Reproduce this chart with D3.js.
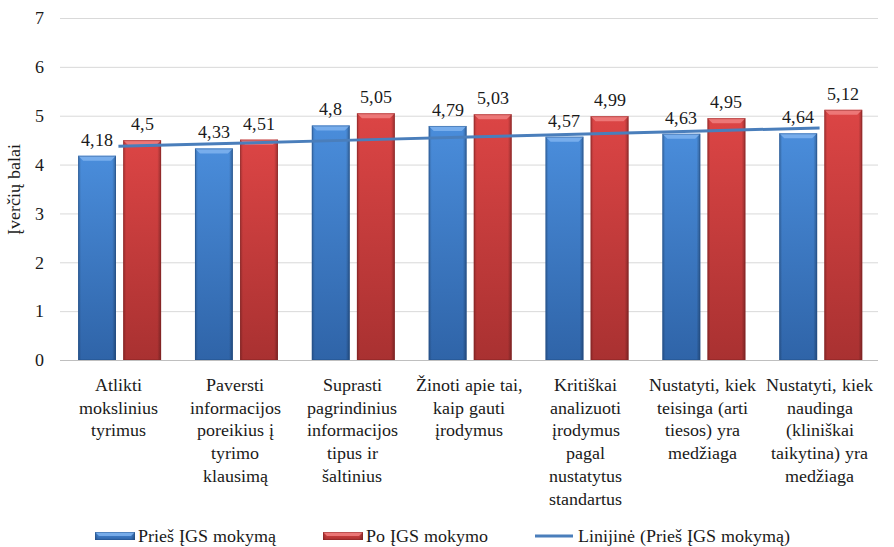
<!DOCTYPE html>
<html>
<head>
<meta charset="utf-8">
<script src="https://cdn.jsdelivr.net/npm/d3@7"></script>
<style>
  @font-face {
    font-family: "ChartSerif";
    src: local("Liberation Serif"), local("LiberationSerif"), local("LiberationSerif-Regular"), local("Tinos"), local("Times New Roman");
  }
</style>
</head>
<body style="margin:0;background:#fff">
<svg id="chart" width="894" height="547" style="display:block"></svg>
<script>
// Skill categories (x axis, pre-wrapped lines)
const categories = [
  ["Atlikti", "mokslinius", "tyrimus"],
  ["Paversti", "informacijos", "poreikius į", "tyrimo", "klausimą"],
  ["Suprasti", "pagrindinius", "informacijos", "tipus ir", "šaltinius"],
  ["Žinoti apie tai,", "kaip gauti", "įrodymus"],
  ["Kritiškai", "analizuoti", "įrodymus", "pagal", "nustatytus", "standartus"],
  ["Nustatyti, kiek", "teisinga (arti", "tiesos) yra", "medžiaga"],
  ["Nustatyti, kiek", "naudinga", "(kliniškai", "taikytina) yra", "medžiaga"]
];
const seriesNames = ["Prieš ĮGS mokymą", "Po ĮGS mokymo"];
const trendName = "Linijinė (Prieš ĮGS mokymą)";
const beforeValues = [4.18, 4.33, 4.8, 4.79, 4.57, 4.63, 4.64];
const afterValues = [4.5, 4.51, 5.05, 5.03, 4.99, 4.95, 5.12];
const yTicks = [0, 1, 2, 3, 4, 5, 6, 7];
const yTitle = "Įverčių balai";

const FONT = "ChartSerif, 'Liberation Serif', 'Times New Roman', Tinos, 'DejaVu Serif', serif";
const plotLeft = 60, plotRight = 878, plotTop = 18, plotBottom = 360;

function draw() {
  const svg = d3.select("#chart");
  svg.selectAll("*").remove();

  const x0 = d3.scaleBand().domain(d3.range(categories.length)).range([plotLeft, plotRight]).padding(0);
  const bw = x0.bandwidth();
  const x1 = d3.scaleBand().domain([0, 1]).range([bw * 0.155, bw * 0.865]).paddingInner(0.16);
  const y = d3.scaleLinear().domain([0, 7]).range([plotBottom, plotTop]);

  const label = sel => sel.attr("font-family", FONT).attr("font-size", 18).attr("fill", "#1a1a1a");

  // Gradients for bar fills
  const defs = svg.append("defs");
  const palettes = [
    { top: "#4a8ddb", bottom: "#2f64a8", edge: "#23508a", bevel: "#7fb3ee" },
    { top: "#dc4545", bottom: "#a93131", edge: "#842424", bevel: "#f08080" }
  ];
  palettes.forEach((p, i) => {
    const g = defs.append("linearGradient").attr("id", "fill" + i)
      .attr("x1", 0).attr("y1", 0).attr("x2", 0).attr("y2", 1);
    g.append("stop").attr("offset", "0%").attr("stop-color", p.top);
    g.append("stop").attr("offset", "100%").attr("stop-color", p.bottom);
  });
  const side = defs.append("linearGradient").attr("id", "sideShade")
    .attr("x1", 0).attr("y1", 0).attr("x2", 1).attr("y2", 0);
  side.append("stop").attr("offset", "0%").attr("stop-color", "#000").attr("stop-opacity", 0.22);
  side.append("stop").attr("offset", "8%").attr("stop-color", "#000").attr("stop-opacity", 0);
  side.append("stop").attr("offset", "90%").attr("stop-color", "#000").attr("stop-opacity", 0);
  side.append("stop").attr("offset", "100%").attr("stop-color", "#000").attr("stop-opacity", 0.3);

  // Gridlines
  svg.append("g").selectAll("line").data(yTicks).join("line")
    .attr("x1", plotLeft).attr("x2", plotRight)
    .attr("y1", d => y(d) + 0.5).attr("y2", d => y(d) + 0.5)
    .attr("stroke", d => d === 0 ? "#bfbfbf" : "#d9d9d9").attr("stroke-width", 1);

  // Y tick labels
  svg.append("g").selectAll("text").data(yTicks).join("text")
    .call(label)
    .attr("x", 44).attr("y", d => y(d)).attr("dy", "0.35em")
    .attr("text-anchor", "end")
    .text(d => d);

  // Y axis title
  svg.append("text").call(label)
    .attr("transform", `translate(20,${(plotTop + plotBottom) / 2}) rotate(-90)`)
    .attr("text-anchor", "middle")
    .text(yTitle);

  // Bars with a soft bevel
  const seriesData = [beforeValues, afterValues];
  function drawBar(g, x, w, yTop, h, p, idx) {
    g.append("rect").attr("x", x).attr("y", yTop).attr("width", w).attr("height", h)
      .attr("fill", `url(#fill${idx})`);
    g.append("rect").attr("x", x).attr("y", yTop).attr("width", w).attr("height", h)
      .attr("fill", "url(#sideShade)");
    const b = Math.min(5, h / 2);
    g.append("path")
      .attr("d", `M${x},${yTop}L${x + w},${yTop}L${x + w - b},${yTop + b}L${x + b},${yTop + b}Z`)
      .attr("fill", p.bevel).attr("opacity", 0.85);
    g.append("rect").attr("x", x + 0.5).attr("y", yTop + 0.5).attr("width", w - 1).attr("height", h - 1)
      .attr("fill", "none").attr("stroke", p.edge).attr("stroke-opacity", 0.45);
  }
  const barsG = svg.append("g");
  seriesData.forEach((vals, s) => {
    vals.forEach((v, i) => {
      drawBar(barsG, x0(i) + x1(s), x1.bandwidth(), y(v), y(0) - y(v), palettes[s], s);
    });
  });

  // Linear trendline of the "before" series
  const xs = d3.range(1, beforeValues.length + 1);
  const mx = d3.mean(xs), my = d3.mean(beforeValues);
  const slope = d3.sum(xs, (xv, i) => (xv - mx) * (beforeValues[i] - my)) / d3.sum(xs, xv => (xv - mx) ** 2);
  const intercept = my - slope * mx;
  const trend = xs.map(xv => [x0(xv - 1) + bw / 2, y(intercept + slope * xv)]);
  svg.append("path").attr("d", d3.line()(trend))
    .attr("fill", "none").attr("stroke", "#4a7ebb").attr("stroke-width", 3);

  // Value labels
  const labelsG = svg.append("g");
  seriesData.forEach((vals, s) => {
    vals.forEach((v, i) => {
      labelsG.append("text").call(label)
        .attr("text-anchor", "middle")
        .attr("x", x0(i) + x1(s) + x1.bandwidth() / 2)
        .attr("y", y(v) - 10)
        .text(String(v).replace(".", ","));
    });
  });

  // Category labels
  const catG = svg.append("g");
  categories.forEach((lines, i) => {
    const t = catG.append("text").call(label).attr("text-anchor", "middle")
      .attr("x", x0(i) + bw / 2).attr("y", 391);
    lines.forEach((ln, k) => {
      t.append("tspan").attr("x", x0(i) + bw / 2).attr("y", 391 + k * 22.7).text(ln);
    });
  });

  // Legend
  const legY = 536;
  const leg = svg.append("g");
  const legItems = [
    { type: "bar", idx: 0, x: 95, label: seriesNames[0] },
    { type: "bar", idx: 1, x: 323, label: seriesNames[1] },
    { type: "line", x: 535, label: trendName }
  ];
  legItems.forEach(it => {
    if (it.type === "bar") {
      drawBar(leg, it.x, 40, legY - 4, 8, palettes[it.idx], it.idx);
    } else {
      leg.append("line").attr("x1", it.x).attr("x2", it.x + 38)
        .attr("y1", legY).attr("y2", legY).attr("stroke", "#4a7ebb").attr("stroke-width", 3);
    }
    leg.append("text").call(label).attr("x", it.x + 43).attr("y", legY).attr("dy", "0.35em").text(it.label);
  });
}

draw();
if (document.fonts && document.fonts.load) {
  document.fonts.load("18px ChartSerif").then(draw, draw);
}
</script>
</body>
</html>
